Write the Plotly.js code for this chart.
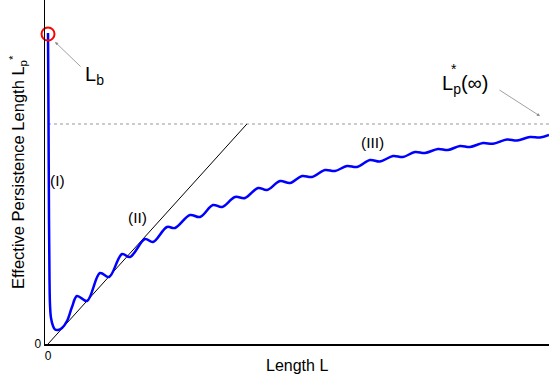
<!DOCTYPE html>
<html>
<head>
<meta charset="utf-8">
<script src="https://cdn.plot.ly/plotly-3.0.1.min.js"></script>
<style>html,body{margin:0;padding:0;background:#fff;}#chart{width:549px;height:384px;}</style>
</head>
<body>
<div id="chart"></div>
<script>
// Effective persistence length curve (blue): steep drop (I), oscillating rise (II), saturation (III)
var lengthL = [0,0.10,0.20,0.30,0.40,0.60,1.00,1.40,2.00,2.79,3.79,4.79,
  5.79,7.78,10.38,12.18,14.77,16.37,19.36,20.96,23.75,25.35,
  28.34,30.34,32.93,34.73,37.33,39.32,41.92,43.71,46.31,48.30,
  50.70,52.69,55.29,57.29,59.68,61.68,64.27,66.27,68.86,70.86,
  73.25,75.25,77.84,79.84,82.24,84.23,86.83,88.82,91.62,93.61,
  96.21,98.20,100.00];
var persistence = [1.4136,1.0182,0.5636,0.2909,0.1773,0.1182,0.0818,0.0659,0.0636,0.0727,0.1045,0.1682,
  0.2182,0.1955,0.3227,0.3045,0.4091,0.3955,0.4773,0.4636,0.5318,0.5273,
  0.5864,0.5773,0.6318,0.6227,0.6682,0.6636,0.7091,0.7000,0.7409,0.7318,
  0.7636,0.7591,0.7909,0.7864,0.8091,0.8045,0.8364,0.8295,0.8545,0.8500,
  0.8727,0.8682,0.8864,0.8818,0.9000,0.8955,0.9136,0.9100,0.9295,0.9250,
  0.9409,0.9386,0.9500];
// Linear regime (II) reference line
var linearL = [0, 39.7];
var linearLp = [0, 1.0];
// Asymptote Lp*(inf)
var asymL = [0, 100.2];
var asymLp = [1.0, 1.0];
// Bare persistence length Lb
var lbL = [0];
var lbLp = [1.409];
var xTickVals = [0], xTickText = ['0'];
var yTickVals = [0], yTickText = ['0'];

var FONT = 'Liberation Sans, Arial, sans-serif';

var traces = [
  {x: asymL, y: asymLp, mode: 'lines', line: {color: '#999999', width: 1, dash: 'dot'}, hoverinfo: 'skip'},
  {x: linearL, y: linearLp, mode: 'lines', line: {color: '#000000', width: 1}, hoverinfo: 'skip'},
  {x: lengthL, y: persistence, mode: 'lines', line: {color: '#0000ff', width: 2.5, shape: 'spline', smoothing: 1}, hoverinfo: 'skip'},
  {x: lbL, y: lbLp, mode: 'markers', marker: {symbol: 'circle-open', size: 13, color: '#ff0000', line: {width: 2, color: '#ff0000'}}, cliponaxis: false, hoverinfo: 'skip'}
];

var layout = {
  width: 549, height: 384,
  margin: {l: 45, r: 0, t: 0, b: 40, pad: 0},
  paper_bgcolor: '#ffffff', plot_bgcolor: '#ffffff',
  showlegend: false,
  font: {family: FONT, color: '#000000', size: 12},
  xaxis: {range: [-0.6, 100], showgrid: false, zeroline: false, showline: true, linecolor: '#000000', linewidth: 1.5,
    tickmode: 'array', tickvals: xTickVals, ticktext: xTickText, ticks: '', tickfont: {size: 12, family: FONT}},
  yaxis: {range: [0, 1.5636], showgrid: false, zeroline: false, showline: true, linecolor: '#000000', linewidth: 1.5,
    tickmode: 'array', tickvals: yTickVals, ticktext: yTickText, ticks: '', tickfont: {size: 12, family: FONT}},
  annotations: [
    {xref: 'paper', yref: 'paper', x: 0.5, y: 0, yshift: -21, xanchor: 'center', yanchor: 'middle', showarrow: false,
     text: 'Length L', font: {size: 16, family: FONT}},
    {xref: 'paper', yref: 'paper', x: 0, y: 0.5, xshift: -27, xanchor: 'center', yanchor: 'middle', showarrow: false, textangle: -90,
     text: 'Effective Persistence Length L<sub>p</sub><sup>*</sup>', font: {size: 16.5, family: FONT}},
    // arrow to Lb
    {x: 1.4, y: 1.373, ax: 27, ay: 26, text: '', showarrow: true, arrowhead: 2, arrowsize: 0.8, arrowwidth: 0.8, arrowcolor: '#888888'},
    {x: 9.2, y: 1.22, text: 'L<sub>b</sub>', showarrow: false, font: {size: 20, family: FONT}},
    // arrow to Lp*(inf)
    {x: 98.2, y: 1.036, ax: -42, ay: -27, text: '', showarrow: true, arrowhead: 2, arrowsize: 0.8, arrowwidth: 0.8, arrowcolor: '#888888'},
    {x: 83.3, y: 1.18, text: 'L<sub>p</sub>(\u221e)', showarrow: false, font: {size: 20, family: FONT}},
    {x: 81.0, y: 1.25, text: '*', showarrow: false, font: {size: 14, family: FONT}},
    {x: 1.8, y: 0.745, text: '(I)', showarrow: false, font: {size: 15.5, family: FONT}},
    {x: 17.8, y: 0.573, text: '(II)', showarrow: false, font: {size: 15.5, family: FONT}},
    {x: 64.8, y: 0.914, text: '(III)', showarrow: false, font: {size: 15.5, family: FONT}}
  ]
};

Plotly.newPlot('chart', traces, layout, {staticPlot: true, displayModeBar: false});
</script>
</body>
</html>
